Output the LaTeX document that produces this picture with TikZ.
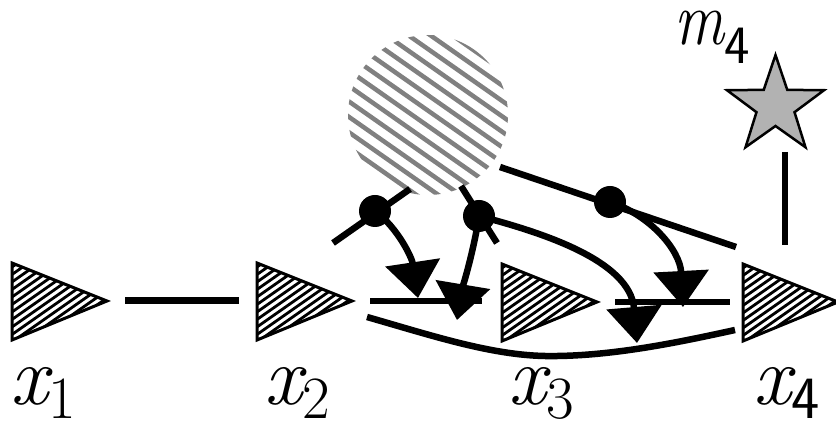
\documentclass[tikz,border=0pt]{standalone}
\usepackage{fontspec}
\usetikzlibrary{arrows.meta,shapes.geometric}
\newcommand{\lblxy}[2]{{\fontsize{84}{84}\selectfont\itshape #1}\raisebox{-14pt}{\fontsize{60}{60}\selectfont #2}}
\begin{document}
\begin{tikzpicture}[x=1pt,y=-1pt,
  conn/.style={line width=7pt},
  arr/.style={line width=6.5pt,-{Triangle[width=54pt,length=36pt]}},
  dot/.style={circle,fill=black,inner sep=0pt,minimum size=32pt},
  lbl/.style={anchor=base west,inner sep=0pt},
  tri/.pic={
    \begin{scope}
      \clip (0,0) -- (95,38) -- (0,77) -- cycle;
      \foreach \y in {0,7.5,...,150} {\draw[line width=2.8pt] (-5,\y) -- ++(-35:200);}
    \end{scope}
    \draw[line width=3pt,line join=miter] (0,0) -- (95,38) -- (0,77) -- cycle;
    \coordinate (-tip) at (95,38);
    \coordinate (-back) at (0,38);
  }]
\useasboundingbox (0,0) rectangle (836,427);

% hatched circle
\begin{scope}
  \clip (428,115) circle (80);
  \foreach \a in {50,72,...,500} {\draw[line width=4.5pt,gray] (\a,0) -- ++(35:380);}
\end{scope}
\node[inner sep=0pt,minimum size=160pt] (blob) at (428,115) {};

% triangles
\pic (t1) at (12,263) {tri};
\pic (t2) at (257,263) {tri};
\pic (t3) at (502,264) {tri};
\pic (t4) at (743,264) {tri};

% labels
\node[lbl] (lx1) at (10,405) {\lblxy{x}{1}};
\node[lbl] (lx2) at (264,405) {\lblxy{x}{2}};
\node[lbl] (lx3) at (508,405) {\lblxy{x}{3}};
\node[lbl] (lx4) at (753,405) {\lblxy{x}{\sffamily 4}};
\node[lbl] (lm4) at (674,45) {\scalebox{0.82}[1]{\fontsize{76}{76}\selectfont\itshape m}\raisebox{-19pt}{\fontsize{54}{54}\selectfont\sffamily 4}};

% star
\node[star,star points=5,star point ratio=2.55,minimum size=102pt,inner sep=0pt,
  fill=gray!60,draw=black,line width=2.5pt] (star) at (775.5,106) {};
\coordinate (s1) at (785,152);
\coordinate (s2) at (785,245);
\draw[line width=6.5pt] (s1) -- (s2);

% x1 -- x2
\coordinate (h1a) at (125,301);
\coordinate (h1b) at (239,301);
\draw[conn] (h1a) -- (h1b);

% horizontal lines
\coordinate (h2a) at (370,301);
\coordinate (h2b) at (482,301);
\draw[line width=6.5pt] (h2a) -- (h2b);
\coordinate (h3a) at (615,302);
\coordinate (h3b) at (730,302);
\draw[line width=6.5pt] (h3a) -- (h3b);

% lower curve
\coordinate (lc1) at (367,317);
\coordinate (lc2) at (545,356);
\coordinate (lc3) at (735,330);
\draw[line width=6.5pt] (lc1) .. controls (430,335) and (490,355) .. (lc2)
  .. controls (610,357) and (680,342) .. (lc3);

% dots and their lines
\coordinate (a1) at (333,243);
\coordinate (b1) at (410,189);
\draw[line width=6.5pt] (a1) -- (b1);
\coordinate (a2) at (461,186);
\coordinate (b2) at (497,243);
\draw[line width=6.5pt] (a2) -- (b2);
\coordinate (a3) at (500,167);
\coordinate (b3) at (736,247);
\draw[line width=6.5pt] (a3) -- (b3);

\node[dot] (d1) at (375,211) {};
\node[dot] (d2) at (479,216) {};
\node[dot] (d3) at (610,202) {};

% arrows
\coordinate (p1) at (418,298);
\coordinate (p2) at (457,320);
\coordinate (p3) at (637,343);
\coordinate (p4) at (683,307);
\draw[arr] (d1.center) .. controls (398,228) and (412,258) .. (p1);
\draw[arr] (d2.center) .. controls (474,250) and (462,290) .. (p2);
\draw[arr] (d2.center) .. controls (540,232) and (630,260) .. (p3);
\draw[arr] (d3.center) .. controls (650,215) and (680,250) .. (p4);
\end{tikzpicture}
\end{document}
